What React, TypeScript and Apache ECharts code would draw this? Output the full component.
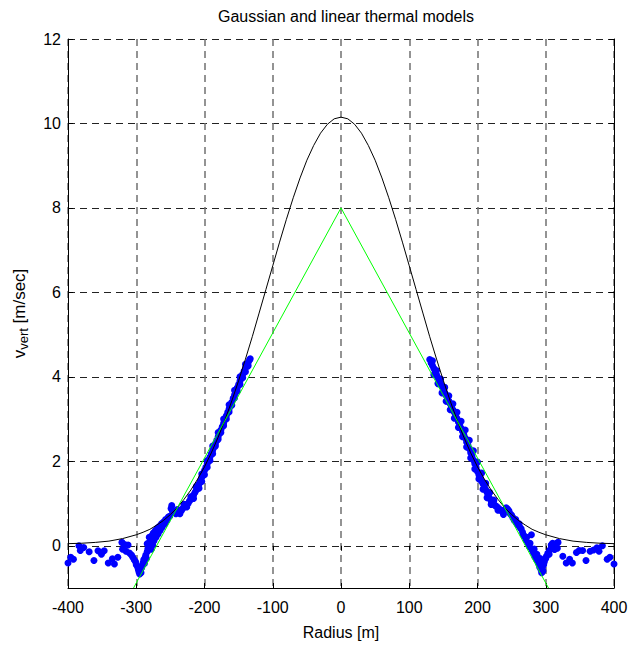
import React, { useEffect, useRef } from 'react';
import * as echarts from 'echarts';

const FONT = "'Liberation Sans', Arial, Helvetica, sans-serif";
const TITLE = 'Gaussian and linear thermal models';
const X_NAME = 'Radius [m]';
const Y_NAME = '{v|v}{s|vert}{v| [m/sec]}';

const xTicks = [-400, -300, -200, -100, 0, 100, 200, 300, 400];
const yTicks = [0, 2, 4, 6, 8, 10, 12];

// Gaussian model (black)
const gaussR = [-400, -380, -360, -340, -320, -300, -290, -280, -270, -260, -250, -240, -230, -220, -210, -200, -190, -180, -170, -160, -150, -140, -130, -120, -110, -100, -90, -80, -70, -60, -50, -40, -30, -20, -10, 0,
  10, 20, 30, 40, 50, 60, 70, 80, 90, 100, 110, 120, 130, 140, 150, 160, 170, 180, 190, 200, 210, 220, 230, 240, 250, 260, 270, 280, 290, 300, 320, 340, 360, 380, 400];
const gaussV = [0.05, 0.06, 0.08, 0.11, 0.17, 0.26, 0.32, 0.39, 0.49, 0.60, 0.74, 0.90, 1.10, 1.32, 1.58, 1.87, 2.20, 2.57, 2.98, 3.43, 3.91, 4.42, 4.95, 5.51, 6.07, 6.63, 7.19, 7.73, 8.24, 8.71, 9.13, 9.48, 9.77, 9.98, 10.11, 10.15,
  10.11, 9.98, 9.77, 9.48, 9.13, 8.71, 8.24, 7.73, 7.19, 6.63, 6.07, 5.51, 4.95, 4.42, 3.91, 3.43, 2.98, 2.57, 2.20, 1.87, 1.58, 1.32, 1.10, 0.90, 0.74, 0.60, 0.49, 0.39, 0.32, 0.26, 0.17, 0.11, 0.08, 0.06, 0.05];

// Linear model (green)
const linR = [-304, 0, 304];
const linV = [-1, 8, -1];

// Measured points (blue)
const leftOuter = [[-400, -0.41], [-396, -0.27], [-392, -0.32], [-384, 0.0], [-382, -0.11], [-377, -0.04], [-369, -0.14], [-362, -0.35], [-356, -0.12], [-351, -0.2], [-347, -0.12], [-341, -0.41], [-335, -0.31], [-332, -0.43], [-327, -0.27], [-321, 0.08], [-320, -0.08], [-317, 0.03], [-315, -0.13], [-312, 0.02], [-310, -0.17]];
const leftV = [[-307, -0.22], [-305, -0.27], [-303, -0.33], [-301, -0.38], [-300, -0.45], [-298, -0.5], [-297, -0.56], [-296, -0.62], [-295, -0.67], [-294, -0.58], [-293, -0.64], [-292, -0.52], [-291, -0.46], [-290, -0.4], [-289, -0.33], [-288, -0.42], [-287, -0.28], [-286, -0.22], [-285, -0.3], [-284, -0.14], [-283, -0.07], [-284, 0.05], [-282, 0.0], [-281, 0.2], [-280, 0.08], [-279, 0.12], [-278, -0.08], [-277, 0.24], [-276, 0.02], [-275, 0.3], [-274, 0.12], [-272, 0.36], [-271, 0.2], [-269, 0.42], [-268, 0.28], [-266, 0.46], [-265, 0.36], [-263, 0.52], [-262, 0.44], [-260, 0.56], [-258, 0.52], [-257, 0.62], [-255, 0.6], [-253, 0.68], [-251, 0.7], [-249, 0.88], [-248, 0.95], [-247, 0.82]];
const leftBand = [[-244, 0.8], [-242, 0.76], [-240, 0.78], [-238, 0.8], [-236, 0.84], [-234, 0.83], [-232, 0.88], [-230, 0.92], [-228, 0.94], [-226, 0.98], [-224, 1.0], [-222, 1.06], [-220, 1.1], [-218, 1.14], [-216, 1.2], [-214, 1.26], [-212, 1.32], [-210, 1.4], [-208, 1.46], [-206, 1.54], [-204, 1.62], [-202, 1.7], [-200, 1.78], [-198, 1.86], [-196, 1.94], [-194, 2.02], [-192, 2.1], [-190, 2.18], [-188, 2.26], [-186, 2.34], [-184, 2.42], [-182, 2.5], [-180, 2.58], [-178, 2.66], [-176, 2.74], [-174, 2.82], [-172, 2.9], [-170, 2.99], [-168, 3.08], [-166, 3.16], [-164, 3.24], [-162, 3.32], [-160, 3.4], [-158, 3.49], [-156, 3.57], [-154, 3.66], [-152, 3.74], [-150, 3.82], [-148, 3.9], [-146, 3.98], [-144, 4.06], [-142, 4.14], [-140, 4.21], [-138, 4.28], [-136, 4.34], [-134, 4.4], [-133, 4.43],
  [-236, 0.76], [-226, 0.92], [-216, 1.12], [-208, 1.36], [-204, 1.52], [-200, 1.68], [-196, 1.86], [-192, 2.02], [-188, 2.18], [-184, 2.36], [-180, 2.52], [-176, 2.68], [-172, 2.84], [-168, 3.0], [-164, 3.17], [-160, 3.33], [-156, 3.5], [-152, 3.66], [-148, 3.82], [-144, 3.98], [-140, 4.12], [-136, 4.26],
  [-240, 0.86], [-230, 0.98], [-220, 1.16], [-212, 1.4], [-204, 1.7], [-196, 2.02], [-188, 2.36], [-180, 2.68], [-172, 3.0], [-164, 3.34], [-156, 3.68], [-148, 4.0], [-140, 4.3]];
const rightBand = [[130, 4.41], [132, 4.33], [134, 4.27], [136, 4.2], [138, 4.12], [140, 4.05], [142, 3.98], [144, 3.91], [146, 3.84], [148, 3.77], [150, 3.7], [152, 3.62], [154, 3.56], [156, 3.5], [158, 3.43], [160, 3.36], [162, 3.29], [164, 3.22], [166, 3.16], [168, 3.08], [170, 3.01], [172, 2.93], [174, 2.86], [176, 2.78], [178, 2.71], [180, 2.63], [182, 2.55], [184, 2.46], [186, 2.38], [188, 2.3], [190, 2.2], [192, 2.12], [194, 2.03], [196, 1.94], [198, 1.85], [200, 1.76], [202, 1.68], [204, 1.6], [206, 1.53], [208, 1.47], [210, 1.4], [212, 1.33], [214, 1.26], [216, 1.18], [218, 1.12], [220, 1.06], [222, 1.02], [224, 0.98], [226, 0.95], [228, 0.93], [230, 0.9], [232, 0.87], [234, 0.84], [236, 0.82], [238, 0.79], [240, 0.85], [242, 0.9], [244, 0.87], [246, 0.83], [248, 0.76], [250, 0.72],
  [134, 4.38], [140, 4.15], [146, 3.95], [152, 3.75], [158, 3.55], [164, 3.36], [170, 3.16], [176, 2.95], [182, 2.74], [188, 2.5], [194, 2.25], [200, 1.98], [206, 1.72], [212, 1.48], [218, 1.26], [224, 1.08],
  [136, 4.05], [142, 3.84], [148, 3.62], [154, 3.42], [160, 3.22], [166, 3.02], [172, 2.8], [178, 2.58], [184, 2.34], [190, 2.08], [196, 1.82], [202, 1.58], [208, 1.34], [214, 1.14], [220, 0.98], [230, 0.84], [238, 0.74]];
const rightV = [[252, 0.66], [254, 0.6], [256, 0.62], [257, 0.54], [259, 0.5], [261, 0.52], [262, 0.44], [264, 0.4], [266, 0.32], [267, 0.26], [269, 0.22], [271, 0.14], [272, 0.2], [274, 0.06], [276, -0.02], [277, 0.06], [279, 0.26], [280, -0.1], [282, -0.17], [283, -0.08], [284, -0.26], [286, -0.32], [287, -0.2], [289, -0.38], [290, -0.44], [291, -0.5], [292, -0.3], [293, -0.56], [294, -0.64], [295, -0.52], [296, -0.6], [297, -0.45], [298, -0.38], [300, -0.3], [301, -0.25], [303, -0.18], [305, -0.2], [306, -0.1], [308, 0.02], [310, 0.06], [313, -0.09], [316, 0.06], [317, -0.06], [318, 0.08]];
const rightOuter = [[325, -0.25], [330, -0.41], [335, -0.32], [339, -0.41], [345, -0.16], [349, -0.11], [354, -0.11], [359, -0.35], [365, -0.13], [370, -0.1], [375, -0.05], [378, -0.13], [383, 0.0], [390, -0.32], [394, -0.27], [400, -0.43]];

export default function App() {
  const ref = useRef<HTMLDivElement>(null);
  useEffect(() => {
    const chart = echarts.init(ref.current!, null, { renderer: 'svg' });
    const measured = [...leftOuter, ...leftV, ...leftBand, ...rightBand, ...rightV, ...rightOuter];
    const gauss = gaussR.map((r, i) => [r, gaussV[i]]);
    const lin = linR.map((r, i) => [r, linV[i]]);
    const tickLabel = { fontFamily: FONT, fontSize: 16, color: '#000' };
    chart.setOption({
      animation: false,
      backgroundColor: '#fff',
      title: {
        text: TITLE, left: 341, top: 3, textAlign: 'center',
        textStyle: { fontFamily: FONT, fontSize: 16, fontWeight: 'normal', color: '#000' },
      },
      grid: { left: 68, right: 22, top: 39, bottom: 58, containLabel: false, outerBoundsMode: 'none' },
      xAxis: [
        {
          type: 'value', min: -400, max: 400, interval: 100, position: 'bottom',
          name: X_NAME, nameLocation: 'middle', nameGap: 36,
          nameTextStyle: { fontFamily: FONT, fontSize: 16, color: '#000' },
          axisLine: { show: true, onZero: false, lineStyle: { color: '#000', width: 1 } },
          axisTick: { show: true, inside: true, length: 5, lineStyle: { color: '#000' } },
          axisLabel: { ...tickLabel, margin: 11 },
          splitLine: { show: true, lineStyle: { color: '#707070', width: 1.5, type: [7, 5] } },
        },
        {
          type: 'value', min: -400, max: 400, interval: 100, position: 'top',
          axisLine: { show: false },
          axisTick: { show: true, inside: true, length: 5, lineStyle: { color: '#000' } },
          axisLabel: { show: false },
          splitLine: { show: false },
        },
      ],
      yAxis: [
        {
          type: 'value', min: -1, max: 12, position: 'left',
          name: Y_NAME, nameLocation: 'middle', nameGap: 38, nameRotate: 90,
          nameTextStyle: {
            color: '#000',
            rich: {
              v: { fontFamily: FONT, fontSize: 17, color: '#000', lineHeight: 22, verticalAlign: 'middle' },
              s: { fontFamily: FONT, fontSize: 13, color: '#000', lineHeight: 13, verticalAlign: 'bottom' },
            },
          },
          axisLine: { show: true, onZero: false, lineStyle: { color: '#000', width: 1 } },
          axisTick: { show: true, inside: true, length: 5, customValues: yTicks, lineStyle: { color: '#000' } },
          axisLabel: { ...tickLabel, margin: 7, customValues: yTicks },
          splitLine: { show: true, lineStyle: { color: '#222', width: 1, type: [7, 5] } },
        },
        {
          type: 'value', min: -1, max: 12, position: 'right',
          axisLine: { show: true, onZero: false, lineStyle: { color: '#000', width: 1 } },
          axisTick: { show: true, inside: true, length: 5, customValues: yTicks, lineStyle: { color: '#000' } },
          axisLabel: { show: false, customValues: yTicks },
          splitLine: { show: false },
        },
      ],
      series: [
        {
          type: 'scatter', name: 'measured', data: measured, xAxisIndex: 0, yAxisIndex: 0,
          symbol: 'circle', symbolSize: 7, itemStyle: { color: '#0000ff', opacity: 1 }, z: 2,
        },
        {
          type: 'line', name: 'gaussian', data: gauss, xAxisIndex: 0, yAxisIndex: 0,
          showSymbol: false, symbol: 'none', smooth: false,
          lineStyle: { color: '#000', width: 1 }, z: 3,
        },
        {
          type: 'line', name: 'linear', data: lin, xAxisIndex: 0, yAxisIndex: 0,
          showSymbol: false, symbol: 'none',
          lineStyle: { color: '#00ff00', width: 1 }, z: 4,
        },
      ],
    });
    return () => chart.dispose();
  }, []);
  return <div ref={ref} style={{ position: 'absolute', left: 0, top: 0, width: 636, height: 646, background: '#fff' }} />;
}
